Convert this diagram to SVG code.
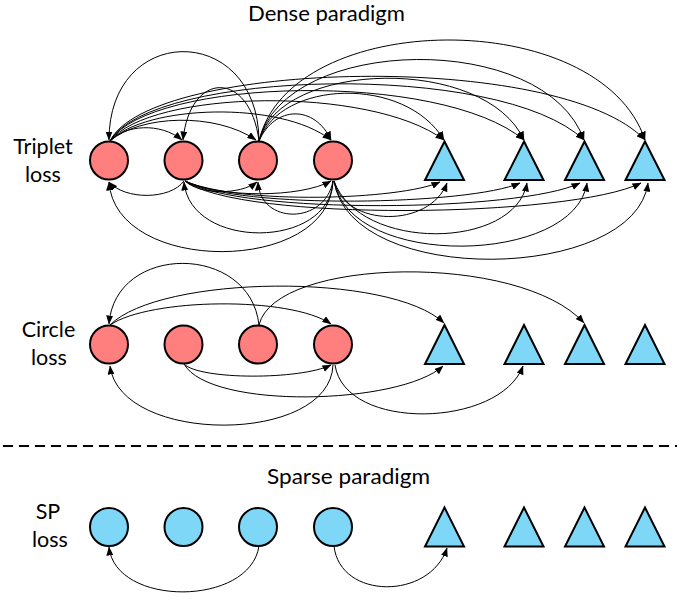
<svg xmlns="http://www.w3.org/2000/svg" width="680" height="603" viewBox="0 0 680 603">
<defs>
<marker id="ah" markerWidth="9" markerHeight="7" refX="8.5" refY="3.5" orient="auto" markerUnits="userSpaceOnUse">
<path d="M0,0 L9,3.5 L0,7 z" fill="#000"/>
</marker>
<style>
.pos{fill:#FF7F7F;stroke:#000;stroke-width:2}
.neg{fill:#7FD7F7;stroke:#000;stroke-width:2}
.c{fill:none;stroke:#000;stroke-width:1;marker-end:url(#ah)}
.t{font-family:Lato,"Open Sans","Liberation Sans",sans-serif;font-size:21.5px;fill:#000}
.m{text-anchor:middle}
</style>
</defs>
<rect width="680" height="603" fill="#fff"/>

<g id="titles">
<text class="t" x="248" y="21" textLength="157" lengthAdjust="spacingAndGlyphs">Dense paradigm</text>
<text class="t" x="267" y="483.5" textLength="163" lengthAdjust="spacingAndGlyphs">Sparse paradigm</text>
</g>
<g id="labels">
<text class="t m" x="43" y="153.5">Triplet</text>
<text class="t m" x="43" y="181.5">loss</text>
<text class="t m" x="48.5" y="337">Circle</text>
<text class="t m" x="49" y="365">loss</text>
<text class="t m" x="48" y="519">SP</text>
<text class="t m" x="50" y="547">loss</text>
</g>
<g id="separator">
<line x1="3" y1="446" x2="677" y2="446" stroke="#000" stroke-width="2" stroke-dasharray="10 6"/>
</g>

<g id="connectors">
<!-- triplet: A1 top -->
<path class="c" d="M110,141 C125,125 160,122 182,140"/>
<path class="c" d="M110,141 C140,115 215,112 256,140"/>
<path class="c" d="M110,141 C145,105 280,100 331,140"/>
<path class="c" d="M110,141 C150,90 370,85 444,140"/>
<path class="c" d="M110,141 C150,78 440,70 524,140"/>
<path class="c" d="M110,141 C150,70 500,60 584,140"/>
<path class="c" d="M110,141 C150,60 560,50 645,140"/>
<!-- triplet: A3 top -->
<path class="c" d="M259,141 C258,22 109,22 109,140"/>
<path class="c" d="M259,141 C250,70 190,70 183,140"/>
<path class="c" d="M259,141 C275,105 315,105 331,140"/>
<path class="c" d="M259,141 C280,80 405,75 444,140"/>
<path class="c" d="M259,141 C280,60 485,55 524,140"/>
<path class="c" d="M259,141 C285,35 545,30 584,140"/>
<path class="c" d="M259,141 C290,8 600,5 645,140"/>
<!-- triplet: A2 bottom -->
<path class="c" d="M184,181 C170,200 125,200 109,182"/>
<path class="c" d="M185,181 C200,195 240,195 257,182"/>
<path class="c" d="M185,181 C220,198 300,198 331,181"/>
<path class="c" d="M185,181 C240,205 400,200 440,182"/>
<path class="c" d="M185,181 C240,210 470,205 520,183"/>
<path class="c" d="M185,181 C240,215 520,212 580,183"/>
<path class="c" d="M185,181 C240,222 570,218 641,183"/>
<!-- triplet: A4 bottom -->
<path class="c" d="M333,181 C325,225 260,225 258,182"/>
<path class="c" d="M333,181 C330,250 190,250 184,182"/>
<path class="c" d="M333,181 C330,275 115,275 109,182"/>
<path class="c" d="M334,181 C345,228 430,228 447,183"/>
<path class="c" d="M334,181 C360,252 515,250 527,183"/>
<path class="c" d="M334,181 C350,270 575,265 587,183"/>
<path class="c" d="M334,181 C350,288 635,282 648,183"/>
<!-- circle loss -->
<path class="c" d="M259,325 C250,243 115,243 109,324"/>
<path class="c" d="M110,325 C160,275 390,272 444,323"/>
<path class="c" d="M110,325 C150,298 290,296 331,324"/>
<path class="c" d="M259,325 C275,257 520,252 584,323"/>
<path class="c" d="M184,364 C200,380 300,380 331,365"/>
<path class="c" d="M184,364 C210,410 400,405 443,366"/>
<path class="c" d="M333,365 C330,445 120,445 110,366"/>
<path class="c" d="M335,365 C345,432 500,428 523,366"/>
<!-- SP loss -->
<path class="c" d="M259,546 C250,607 115,607 109,547"/>
<path class="c" d="M334,546 C340,600 430,600 447,548"/>
</g>

<g id="triplet-row">
<circle id="t-a1" class="pos" cx="109" cy="160.5" r="19"/>
<circle id="t-a2" class="pos" cx="183.5" cy="160.5" r="19"/>
<circle id="t-a3" class="pos" cx="258" cy="160.5" r="19"/>
<circle id="t-a4" class="pos" cx="333" cy="160.5" r="19"/>
<polygon id="t-n1" class="neg" points="444.5,141.5 464,180 425,180"/>
<polygon id="t-n2" class="neg" points="524,141.5 543.5,180 504.5,180"/>
<polygon id="t-n3" class="neg" points="584.5,141.5 604,180 565,180"/>
<polygon id="t-n4" class="neg" points="645,141.5 664.5,180 625.5,180"/>
</g>
<g id="circle-row">
<circle id="c-a1" class="pos" cx="109" cy="344.5" r="19"/>
<circle id="c-a2" class="pos" cx="183.5" cy="344.5" r="19"/>
<circle id="c-a3" class="pos" cx="258" cy="344.5" r="19"/>
<circle id="c-a4" class="pos" cx="333" cy="344.5" r="19"/>
<polygon id="c-n1" class="neg" points="444.5,325 464,364 425,364"/>
<polygon id="c-n2" class="neg" points="524,325 543.5,364 504.5,364"/>
<polygon id="c-n3" class="neg" points="584.5,325 604,364 565,364"/>
<polygon id="c-n4" class="neg" points="645,325 664.5,364 625.5,364"/>
</g>
<g id="sp-row">
<circle id="s-a1" class="neg" cx="109" cy="527" r="19"/>
<circle id="s-a2" class="neg" cx="183.5" cy="527" r="19"/>
<circle id="s-a3" class="neg" cx="258" cy="527" r="19"/>
<circle id="s-a4" class="neg" cx="333" cy="527" r="19"/>
<polygon id="s-n1" class="neg" points="444.5,507.5 464,546.5 425,546.5"/>
<polygon id="s-n2" class="neg" points="524,507.5 543.5,546.5 504.5,546.5"/>
<polygon id="s-n3" class="neg" points="584.5,507.5 604,546.5 565,546.5"/>
<polygon id="s-n4" class="neg" points="645,507.5 664.5,546.5 625.5,546.5"/>
</g>
</svg>
